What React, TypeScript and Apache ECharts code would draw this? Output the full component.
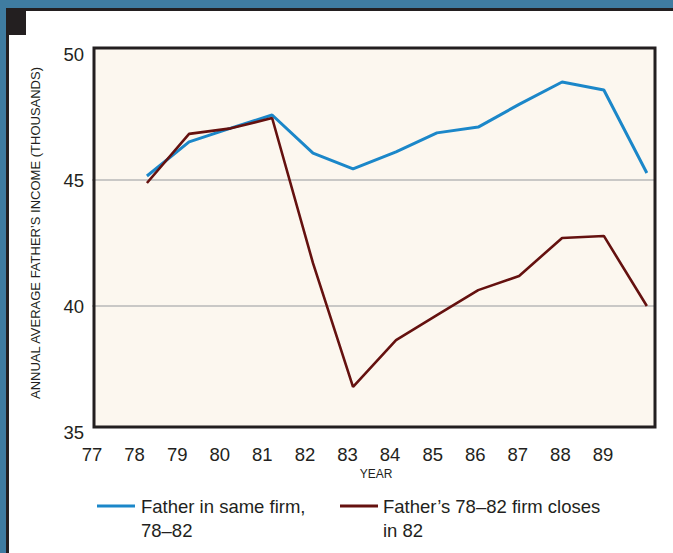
import React, { useEffect, useRef } from "react";
import * as echarts from "echarts";

// Year positions of the plotted points as drawn (x axis is a value axis in years)
const pointYears = [78.29, 79.28, 80.26, 81.23, 82.19, 83.13, 84.14, 85.1, 86.07, 87.03, 88.04, 89.02, 90.03];
const sameFirm = [45.16, 46.51, 47.06, 47.58, 46.07, 45.44, 46.12, 46.87, 47.1, 48.0, 48.89, 48.57, 45.28];
const firmCloses = [44.88, 46.83, 47.05, 47.46, 41.7, 36.79, 38.65, 39.64, 40.63, 41.19, 42.7, 42.78, 40.0];
const xTickYears = [77, 78, 79, 80, 81, 82, 83, 84, 85, 86, 87, 88, 89];
const yTicks = [35, 40, 45, 50];

const seriesNames = ["Father in same firm,\n78\u201382", "Father\u2019s 78\u201382 firm closes\nin 82"];
const colors = ["#1b87c9", "#65110f"];
const FONT = "'Liberation Sans', Arial, Helvetica, sans-serif";
const INK = "#231f20";

export default function App() {
  const ref = useRef<HTMLDivElement>(null);
  useEffect(() => {
    if (!ref.current) return;
    const chart = echarts.init(ref.current, undefined, { renderer: "svg" });
    const toPairs = (vals: number[]) => vals.map((v, i) => [pointYears[i], v]);
    chart.setOption({
      animation: false,
      backgroundColor: "#ffffff",
      textStyle: { fontFamily: FONT },
      grid: { left: 92, top: 54, width: 564, height: 378, containLabel: false },
      xAxis: {
        type: "value",
        min: 77,
        max: 90.245,
        interval: 1,
        axisLine: { show: false },
        axisTick: { show: false },
        splitLine: { show: false },
        axisLabel: {
          color: INK,
          fontSize: 18.5,
          fontFamily: FONT,
          margin: 13,
          formatter: (v: number) => (xTickYears.includes(Math.round(v)) && Math.abs(v - Math.round(v)) < 1e-6 ? String(Math.round(v)) : ""),
        },
      },
      yAxis: {
        type: "value",
        min: yTicks[0],
        max: yTicks[yTicks.length - 1],
        interval: 5,
        axisLine: { show: false },
        axisTick: { show: false },
        axisLabel: { color: INK, fontSize: 18.5, fontFamily: FONT, margin: 8 },
        splitLine: { show: true, showMinLine: false, showMaxLine: false, lineStyle: { color: "#b9b9b9", width: 1.5 } },
      },
      series: [
        {
          name: seriesNames[0],
          type: "line",
          data: toPairs(sameFirm),
          showSymbol: false,
          symbol: "none",
          lineStyle: { color: colors[0], width: 3 },
          z: 5,
        },
        {
          name: seriesNames[1],
          type: "line",
          data: toPairs(firmCloses),
          showSymbol: false,
          symbol: "none",
          lineStyle: { color: colors[1], width: 2.6 },
          z: 6,
        },
      ],
      graphic: [
        // frame
        { type: "rect", z: -20, silent: true, shape: { x: 0, y: 0, width: 673, height: 8 }, style: { fill: "#3f7ca1" } },
        { type: "rect", z: -20, silent: true, shape: { x: 0, y: 0, width: 6, height: 553 }, style: { fill: "#3f7ca1" } },
        { type: "rect", z: -19, silent: true, shape: { x: 6, y: 8, width: 667, height: 3 }, style: { fill: INK } },
        { type: "rect", z: -19, silent: true, shape: { x: 6, y: 8, width: 3, height: 545 }, style: { fill: INK } },
        { type: "rect", z: -19, silent: true, shape: { x: 6, y: 10, width: 20, height: 25 }, style: { fill: INK } },
        // plot background
        { type: "rect", z: -10, silent: true, shape: { x: 94, y: 48, width: 561, height: 379 }, style: { fill: "#fcf7ef" } },
        // plot border
        { type: "rect", z: 100, silent: true, shape: { x: 94, y: 48, width: 561, height: 379 }, style: { fill: "none", stroke: INK, lineWidth: 3 } },
        // y axis title
        {
          type: "text",
          z: 100,
          x: 35,
          y: 233,
          rotation: Math.PI / 2,
          style: {
            text: "ANNUAL AVERAGE FATHER\u2019S INCOME (THOUSANDS)",
            fill: INK,
            font: `13px ${FONT}`,
            align: "center",
            verticalAlign: "middle",
          },
        },
        // x axis title
        {
          type: "text",
          z: 100,
          x: 376,
          y: 474,
          style: { text: "YEAR", fill: INK, font: `12px ${FONT}`, align: "center", verticalAlign: "middle" },
        },
        // legend
        { type: "line", z: 100, shape: { x1: 97, y1: 506, x2: 135, y2: 506 }, style: { stroke: colors[0], lineWidth: 3 } },
        {
          type: "text",
          z: 100,
          x: 141,
          y: 494,
          style: { text: seriesNames[0], fill: INK, font: `18.5px ${FONT}`, lineHeight: 24, align: "left", verticalAlign: "top" },
        },
        { type: "line", z: 100, shape: { x1: 340, y1: 506, x2: 378, y2: 506 }, style: { stroke: colors[1], lineWidth: 3 } },
        {
          type: "text",
          z: 100,
          x: 383,
          y: 494,
          style: { text: seriesNames[1], fill: INK, font: `18.5px ${FONT}`, lineHeight: 24, align: "left", verticalAlign: "top" },
        },
      ],
    });
    return () => chart.dispose();
  }, []);
  return <div ref={ref} style={{ position: "fixed", left: 0, top: 0, width: 673, height: 553 }} />;
}
